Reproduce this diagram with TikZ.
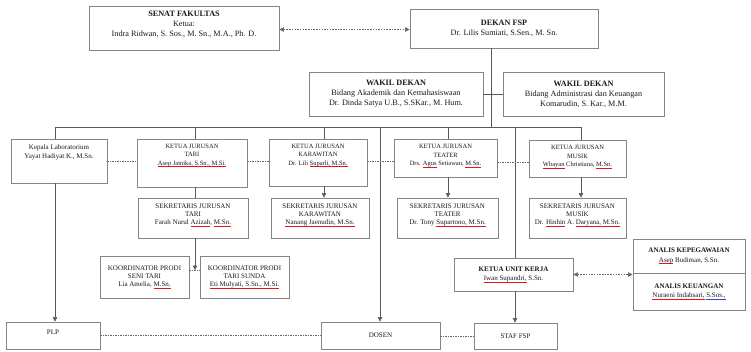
\documentclass[tikz,border=0pt]{standalone}
\usepackage{fontspec}
\setmainfont{Liberation Serif}
\usetikzlibrary{arrows.meta}
\definecolor{sqred}{RGB}{230,20,20}
\definecolor{sqblue}{RGB}{40,70,220}
\newlength\sqlen
\newcommand\sqr[1]{\settowidth\sqlen{#1}\rlap{\textcolor{sqred}{\rule[-1.9pt]{\sqlen}{0.7pt}}}#1}
\newcommand\sqb[1]{\settowidth\sqlen{#1}\rlap{\textcolor{sqblue}{\rule[-1.9pt]{\sqlen}{0.7pt}}}#1}
\begin{document}
\begin{tikzpicture}[x=1pt,y=-1pt,
 box/.style={draw=black!48, line width=0.85pt, inner sep=0pt, align=center, text=black!90},
 txt/.style={align=center, inner sep=0pt, text=black!90},
 big/.style={font=\fontsize{8.2}{10}\selectfont},
 kj/.style={font=\fontsize{6.5}{8.5}\selectfont},
 sm/.style={font=\fontsize{7}{8}\selectfont},
 md/.style={font=\fontsize{7}{9}\selectfont},
 conn/.style={draw=black!65, line width=0.6pt},
 arr/.style={conn, -{Triangle[length=4.5pt,width=4.5pt]}},
 dsh/.style={draw=black!60, line width=0.6pt, dash pattern=on 1.5pt off 1pt},
 dbl/.style={draw=black!60, line width=0.6pt, dash pattern=on 1.5pt off 1.2pt,
   {Triangle[length=4.5pt,width=4.5pt]}-{Triangle[length=4.5pt,width=4.5pt]}},
]
\fill[white] (0,0) rectangle (751,351);
\useasboundingbox (0,0) rectangle (751,351);

% top level
\node[box, minimum width=190pt, minimum height=44pt] (senat) at (184,28) {};
\node[txt,big] (senatT) at ([yshift=3.5pt]senat.center) {\textbf{SENAT FAKULTAS}\\Ketua:\\Indra Ridwan, S. Sos., M. Sn., M.A., Ph. D.};
\node[box, big, minimum width=188pt, minimum height=39pt] (dekan) at (504,28.5) {\textbf{DEKAN FSP}\\Dr. Lilis Sumiati, S.Sen., M. Sn.};
\node[box, big, minimum width=174pt, minimum height=44pt] (w1) at (396,94) {\textbf{WAKIL DEKAN}\\Bidang Akademik dan Kemahasiswaan\\Dr. Dinda Satya U.B., S.SKar., M. Hum.};
\node[box, big, minimum width=161pt, minimum height=44pt] (w2) at (583.5,94) {\textbf{WAKIL DEKAN}\\Bidang Administrasi dan Keuangan\\Komarudin, S. Kar., M.M.};

% second level
\node[box, minimum width=96pt, minimum height=44pt] (lab) at (59,161) {};
\node[txt,md] (labT) at ([yshift=9pt]lab.center) {Kepala Laboratorium\\Yayat Hadiyat K., M.Sn.};
\node[box, minimum width=110pt, minimum height=48pt] (tari) at (192,163) {};
\node[txt,kj] (tariT) at ([yshift=7.5pt]tari.center) {KETUA JURUSAN\\TARI\\\sqr{Asep Jatnika, S.Sn., M.Si.}};
\node[box, minimum width=98pt, minimum height=47pt] (kar) at (318,162.5) {};
\node[txt,kj] (karT) at ([yshift=7pt]kar.center) {KETUA JURUSAN\\KARAWITAN\\Dr. Lili \sqr{Suparli, M.Sn.}};
\node[box, minimum width=103pt, minimum height=38pt] (teater) at (445.5,158) {};
\node[txt,kj] (teaterT) at ([yshift=2pt]teater.center) {KETUA JURUSAN\\TEATER\\Drs. \sqr{Agus} Setiawan, \sqr{M.Sn.}};
\node[box, minimum width=97pt, minimum height=37pt] (musik) at (577.5,158.5) {};
\node[txt,kj] (musikT) at ([yshift=1.5pt]musik.center) {KETUA JURUSAN\\MUSIK\\\sqr{Whayan} Christiana, \sqr{M.Sn.}};

% third level
\node[box, minimum width=110pt, minimum height=40pt] (sektari) at (193,218) {};
\node[txt,sm] (sektariT) at ([yshift=3pt]sektari.center) {SEKRETARIS JURUSAN\\TARI\\Farah Nurul \sqr{Azizah}, \sqr{M.Sn.}};
\node[box, minimum width=98pt, minimum height=40pt] (sekkar) at (320,218) {};
\node[txt,sm] (sekkarT) at ([yshift=3pt]sekkar.center) {SEKRETARIS JURUSAN\\KARAWITAN\\\sqr{Nanang Jaenudin, M.Sn.}};
\node[box, minimum width=101pt, minimum height=40pt] (sekteater) at (447.5,218) {};
\node[txt,sm] (sekteaterT) at ([yshift=3pt]sekteater.center) {SEKRETARIS JURUSAN\\TEATER\\Dr. Tony \sqr{Supartono, M.Sn.}};
\node[box, minimum width=97pt, minimum height=40pt] (sekmusik) at (577.5,218) {};
\node[txt,sm] (sekmusikT) at ([yshift=3pt]sekmusik.center) {SEKRETARIS JURUSAN\\MUSIK\\Dr. \sqr{Hinhin} A. \sqr{Daryana, M.Sn.}};

% koordinator
\node[box, sm, minimum width=89pt, minimum height=42pt] (seni) at (144.5,277) {KOORDINATOR PRODI\\SENI TARI\\Lia Amelia, \sqr{M.Sn.}};
\node[box, sm, minimum width=89pt, minimum height=42pt] (sunda) at (244.5,277) {KOORDINATOR PRODI\\TARI SUNDA\\\sqr{Eti Mulyati, S.Sn., M.Si.}};

% unit kerja and analis
\node[box, md, minimum width=119pt, minimum height=33pt] (unit) at (513.5,274.5) {\textbf{KETUA UNIT KERJA}\\\sqr{Iwan Supandri,} S.Sn.};
\node[box, font=\fontsize{7}{9.5}\selectfont, minimum width=112pt, minimum height=34pt] (kepeg) at (689,256) {\textbf{ANALIS KEPEGAWAIAN}\\\sqr{Asep} Budiman, S.Sn.};
\node[box, font=\fontsize{7}{9.5}\selectfont, minimum width=112pt, minimum height=37pt] (keu) at (689,291.5) {\textbf{ANALIS KEUANGAN}\\\sqr{Nuraeni Indahsari,} \sqb{S.Sos.,}};

% bottom level
\node[box, minimum width=94pt, minimum height=27pt] (plp) at (53,335.5) {};
\node[txt,sm] (plpT) at ([yshift=3pt]plp.center) {PLP};
\node[box, sm, minimum width=119pt, minimum height=27pt] (dosen) at (380.5,335.5) {DOSEN};
\node[box, sm, minimum width=83pt, minimum height=26pt] (staf) at (515.5,336) {STAF FSP};

% coordinates
\coordinate (dk) at (491,127);
\coordinate (xl) at (55,127);
\coordinate (xt) at (195,127);
\coordinate (xk) at (324,127);
\coordinate (xd) at (380,127);
\coordinate (xte) at (448,127);
\coordinate (xu) at (515,127);
\coordinate (xm) at (581,127);
\coordinate (kd) at (195,270);
\coordinate (yd) at (0,161);
\coordinate (yd2) at (0,162);
\coordinate (ya) at (0,29.5);

% tree lines
\draw[dbl] (senat.east |- ya) -- (dekan.west |- ya);
\draw[conn] (dekan.south -| dk) -- (dk);
\draw[conn] (w1.east) -- (w2.west);
\draw[conn] (xl) -- (xm);
\draw[conn] (xl) -- (xl |- lab.north);
\draw[conn] (xt) -- (xt |- tari.north);
\draw[conn] (xk) -- (xk |- kar.north);
\draw[conn] (xte) -- (xte |- teater.north);
\draw[conn] (xm) -- (xm |- musik.north);
\draw[arr] (xd) -- (xd |- dosen.north);
\draw[conn] (xu) -- (xu |- unit.north);
\draw[arr] (unit.south -| xu) -- (xu |- staf.north);
\draw[arr] (lab.south -| xl) -- (xl |- plp.north);

\draw[conn] (tari.south -| xt) -- (xt |- sektari.north);
\draw[arr] (sektari.south -| xt) -- (kd);
\draw[arr] (kar.south -| xk) -- (xk |- sekkar.north);
\draw[arr] (teater.south -| xte) -- (xte |- sekteater.north);
\draw[arr] (musik.south -| xm) -- (xm |- sekmusik.north);

% dashed coordination lines
\draw[dsh] (lab.east |- yd) -- (tari.west |- yd);
\draw[dsh] (tari.east |- yd) -- (kar.west |- yd);
\draw[dsh] (kar.east |- yd) -- (teater.west |- yd);
\draw[dsh] (teater.east |- yd2) -- (musik.west |- yd2);
\draw[dsh] (seni.east |- kd) -- (sunda.west |- kd);
\draw[dsh] (plp.east) -- (dosen.west |- plp.east);
\draw[dsh] (dosen.east |- staf.west) -- (staf.west);
\draw[dbl] (unit.east) -- (keu.north west |- unit.east);
\end{tikzpicture}
\end{document}
